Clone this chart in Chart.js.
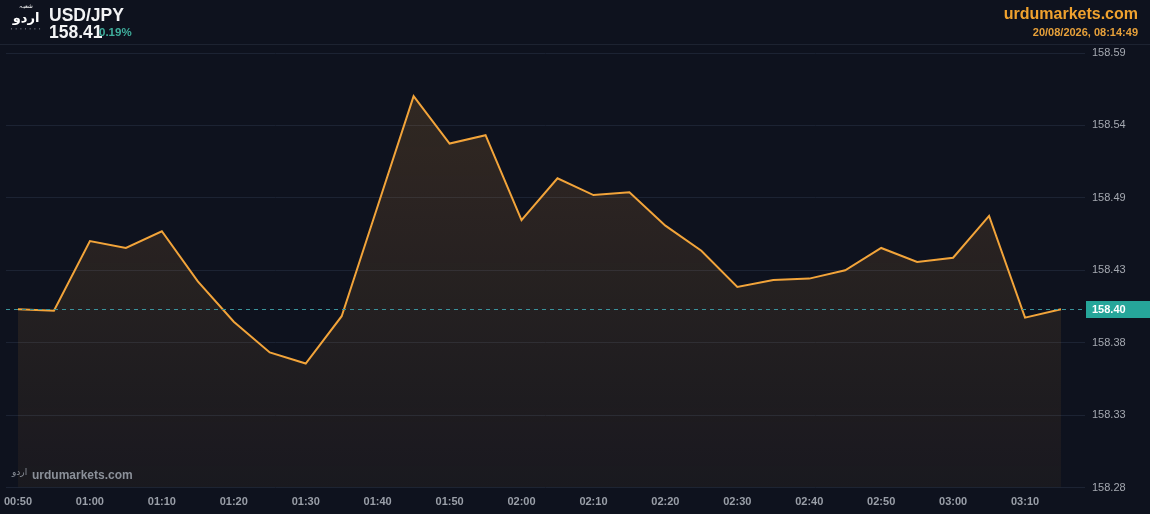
<!DOCTYPE html>
<html>
<head>
<meta charset="utf-8">
<script src="https://cdn.jsdelivr.net/npm/chart.js@4"></script>
<style>
  html, body { margin: 0; padding: 0; background: #0e121e; overflow: hidden; }
  #wrap { position: relative; width: 1150px; height: 514px; }
  #c { position: absolute; left: 0; top: 0; }
  .hdr { position: absolute; font-family: "Liberation Sans", Arial, sans-serif; font-weight: bold; white-space: nowrap; }
  #bar { position: absolute; left: 0; top: 0; width: 1150px; height: 44px; border-bottom: 1px solid #1d2331; }
  #logo { position: absolute; left: 9px; top: 3px; width: 34px; text-align: center; color: #fff; font-family: "DejaVu Sans", sans-serif; }
</style>
</head>
<body>
<div id="wrap">
  <canvas id="c" width="1150" height="514"></canvas>
  <div id="bar"></div>
  <div id="logo">
    <div style="font-size:6px;line-height:6px;">شعبہ</div>
    <div style="font-size:13px;line-height:18px;font-weight:bold;">اردو</div>
    <div style="font-size:3px;line-height:5px;color:#cfd2d8;letter-spacing:1px;">• • • • • • •</div>
  </div>
  <div class="hdr" style="left:49px;top:5px;color:#f2f3f5;font-size:17.5px;">USD/JPY</div>
  <div class="hdr" style="left:49px;top:22px;color:#f2f3f5;font-size:17.5px;">158.41</div>
  <div class="hdr" style="left:99px;top:26px;color:#3fae9c;font-size:11.5px;">0.19%</div>
  <div class="hdr" style="right:12px;top:5px;color:#f0a22e;font-size:16px;">urdumarkets.com</div>
  <div class="hdr" style="right:12px;top:26px;color:#e6a03a;font-size:11px;">20/08/2026, 08:14:49</div>
  <div class="hdr" style="left:12px;top:467px;color:#8b9099;font-family:'DejaVu Sans';font-size:9px;font-weight:normal;">اردو</div>
  <div class="hdr" style="left:32px;top:468px;color:#8b9099;font-size:12px;">urdumarkets.com</div>
</div>
<script>
// 5-minute closes, USD/JPY
const times = ['00:50','00:55','01:00','01:05','01:10','01:15','01:20','01:25','01:30','01:35',
               '01:40','01:45','01:50','01:55','02:00','02:05','02:10','02:15','02:20','02:25',
               '02:30','02:35','02:40','02:45','02:50','02:55','03:00','03:05','03:10','03:15'];
const prices = [158.406, 158.405, 158.455, 158.450, 158.462, 158.426, 158.397, 158.375, 158.367, 158.401,
                158.480, 158.559, 158.525, 158.531, 158.470, 158.500, 158.488, 158.490, 158.466, 158.448,
                158.422, 158.427, 158.428, 158.434, 158.450, 158.440, 158.443, 158.473, 158.400, 158.406];
const yMin = 158.278, yMax = 158.590, yStep = 0.052;

const lastPrice = prices[prices.length - 1];

const priceLine = {
  id: 'priceLine',
  afterDatasetsDraw(chart) {
    const { ctx, chartArea } = chart;
    const y = Math.round(chart.scales.y.getPixelForValue(lastPrice)) + 0.5;
    ctx.save();
    ctx.strokeStyle = '#3a929a';
    ctx.lineWidth = 1;
    ctx.setLineDash([4, 4]);
    ctx.beginPath();
    ctx.moveTo(chartArea.left, y);
    ctx.lineTo(chartArea.right - 3, y);
    ctx.stroke();
    ctx.setLineDash([]);
    ctx.fillStyle = '#26a69a';
    ctx.fillRect(chartArea.right + 1, y - 8.5, 70, 17);
    ctx.fillStyle = '#ffffff';
    ctx.font = 'bold 11px "Liberation Sans", Arial';
    ctx.textBaseline = 'middle';
    // price tag truncates to 2 decimals
    ctx.fillText((Math.floor(lastPrice * 100) / 100).toFixed(2), chartArea.right + 7, y + 0.5);
    ctx.restore();
  }
};

new Chart(document.getElementById('c'), {
  type: 'line',
  data: {
    datasets: [{
      data: prices.map((p, i) => ({ x: i, y: p })),
      borderColor: '#f2a43a',
      borderWidth: 2,
      pointRadius: 0,
      tension: 0,
      fill: 'start',
      backgroundColor: (c) => {
        const a = c.chart.chartArea;
        if (!a) return 'rgba(240,160,50,0.1)';
        const g = c.chart.ctx.createLinearGradient(0, a.top, 0, a.bottom);
        g.addColorStop(0, 'rgba(240,160,60,0.17)');
        g.addColorStop(1, 'rgba(240,160,60,0.05)');
        return g;
      }
    }]
  },
  options: {
    responsive: false,
    animation: false,
    layout: { padding: { left: 6, top: 53, right: 0, bottom: 0 } },
    plugins: { legend: { display: false }, tooltip: { enabled: false } },
    scales: {
      x: {
        type: 'linear',
        min: -0.333,
        max: 29.667,
        afterBuildTicks: (s) => { s.ticks = times.map((t, i) => ({ value: i })).filter(t => t.value % 2 === 0); },
        afterFit: (s) => { s.height = 26.5; },
        grid: { display: false },
        border: { display: false },
        ticks: {
          callback: (v) => times[v],
          color: '#9a9fa8',
          font: { family: '"Liberation Sans", Arial', size: 11, weight: 'bold' },
          padding: 0,
          maxRotation: 0,
          autoSkip: false
        }
      },
      y: {
        position: 'right',
        min: yMin,
        max: yMax,
        afterFit: (s) => { s.width = 65; },
        grid: { color: '#1c2333', drawTicks: false },
        border: { display: false },
        ticks: {
          stepSize: yStep,
          callback: (v) => v.toFixed(2),
          color: '#a4a8b0',
          font: { family: '"Liberation Sans", Arial', size: 11 },
          padding: 7
        }
      }
    }
  },
  plugins: [priceLine]
});
</script>
</body>
</html>
